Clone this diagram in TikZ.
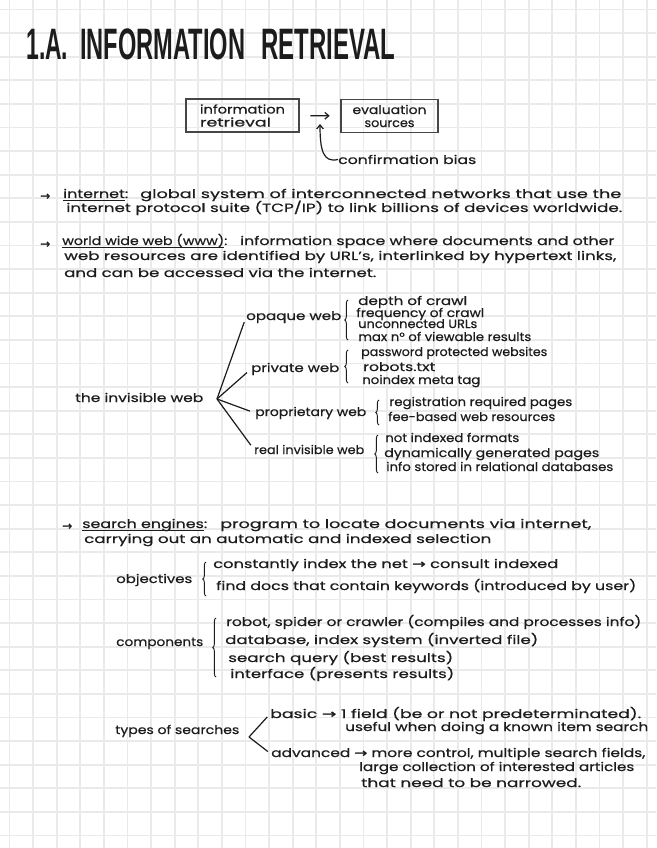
\documentclass[tikz,border=0pt]{standalone}
\usepackage{graphicx,xcolor}
\usepackage{fontspec}
\setmainfont[FakeBold=0.5]{Poppins}
\newfontfamily\titlefont{Liberation Sans}
\newfontfamily\symfont[FakeBold=1]{DejaVu Sans}
\definecolor{inkblack}{RGB}{28,28,28}
\definecolor{boxgray}{RGB}{70,70,70}
\definecolor{gridgray}{RGB}{234,234,234}
\usetikzlibrary{arrows.meta,decorations.pathreplacing}
\newlength{\pxu}
\setlength{\pxu}{0.75pt}
\newcommand{\hw}[2]{\resizebox{#1\pxu}{\height}{#2}}
\newcommand{\toglyph}{{\symfont →}}
\newcommand{\inkunder}[1]{\underline{\smash{#1}}}

\begin{document}
\begin{tikzpicture}[x=0.75pt, y=-0.75pt,
    gridline/.style={draw=gridgray, line width=1.3pt},
    hand/.style={anchor=base west, inner sep=0pt, text=inkblack,
                font=\fontsize{9}{11}\selectfont},
    notebox/.style={draw=boxgray, line width=0.9pt, minimum height=24.75pt,
                inner sep=0pt, text=inkblack, font=\fontsize{9}{9.75}\selectfont},
    inkline/.style={draw=inkblack, line width=0.9pt},
    inkarrow/.style={inkline, -{Straight Barb[length=3pt,width=5pt]}},
    handbrace/.style={inkline, line width=0.7pt, decorate,
                decoration={brace, amplitude=2.5pt, aspect=0.5}}
  ]
    \useasboundingbox (0,0) rectangle (656,848);
    \fill[white] (0,0) rectangle (656,848);
    \foreach \gx in {0,...,27}
      \draw[gridline] ({9.5+23.6*\gx},0) -- ({9.5+23.6*\gx},848);
    \foreach \gy in {0,...,35}
      \draw[gridline] (0,{9.5+23.6*\gy}) -- (656,{9.5+23.6*\gy});

    \node[anchor=base west, inner sep=0pt, text=inkblack,
          font=\fontsize{33}{36}\selectfont\titlefont\bfseries] (title) at (26,60)
      {\hw{42}{1.A.}\hspace{12\pxu}\hw{165}{INFORMATION}\hspace{16\pxu}\hw{134}{RETRIEVAL}};

    \node[notebox, minimum width=84.75pt, align=left] (retrieval) at (242.5,115.5)
      {\hw{85}{information}\hspace{6\pxu}\\\hw{71}{retrieval}};
    \node[notebox, minimum width=72.75pt, align=center] (evaluation) at (389.5,116)
      {\hw{74}{evaluation}\\\hw{50}{sources}};
    \node[hand] (bias) at (338,164) {\hw{138}{confirmation bias}};
    \coordinate (biastip) at (320,124);
    \draw[inkarrow, shorten <=8pt, shorten >=8pt] (retrieval) -- (evaluation);
    \draw[inkarrow] (bias.west) .. controls (323,163) and (320,150) .. (biastip);

    \node[hand] (arrowA) at (40,200) {\hw{10}{\toglyph}};
    \node[hand] (internet) at (63,198) {\hw{65}{\inkunder{internet}:}};
    \node[hand] (internetA) at (140,198) {\hw{481}{global system of interconnected networks that use the}};
    \node[hand] (internetB) at (66,212) {\hw{556}{internet protocol suite (TCP/IP) to link billions of devices worldwide.}};

    \node[hand] (arrowB) at (40,248) {\hw{10}{\toglyph}};
    \node[hand] (www) at (62,245) {\hw{165}{\inkunder{world wide web (www)}:}};
    \node[hand] (wwwA) at (240,245) {\hw{374}{information space where documents and other}};
    \node[hand] (wwwB) at (64,260) {\hw{552}{web resources are identified by URL's, interlinked by hypertext links,}};
    \node[hand] (wwwC) at (64,277) {\hw{312}{and can be accessed via the internet.}};

    \node[hand] (invisible) at (75,402) {\hw{128}{the invisible web}};
    \coordinate (hub) at (217,399);
    \node[hand] (opaque) at (246,320) {\hw{95}{opaque web}};
    \node[hand] (private) at (251,372) {\hw{88}{private web}};
    \node[hand] (proprietary) at (255,416) {\hw{111}{proprietary web}};
    \node[hand] (real) at (254,454) {\hw{110}{real invisible web}};
    \draw[inkline, shorten >=4pt] (hub) -- (opaque.west);
    \draw[inkline, shorten >=4pt] (hub) -- (private.west);
    \draw[inkline, shorten >=4pt] (hub) -- (proprietary.west);
    \draw[inkline, shorten >=4pt] (hub) -- (real.west);

    \draw[handbrace] (348,340) -- (348,300);
    \node[hand] (depth) at (358,305) {\hw{109}{depth of crawl}};
    \node[hand] (frequency) at (356,317) {\hw{128}{frequency of crawl}};
    \node[hand] (unconnected) at (358,328) {\hw{119}{unconnected URLs}};
    \node[hand] (viewable) at (358,341) {\hw{173}{max n° of viewable results}};

    \draw[handbrace] (348,383) -- (348,350);
    \node[hand] (password) at (361,356) {\hw{186}{password protected websites}};
    \node[hand] (robots) at (363,371) {\hw{72}{robots.txt}};
    \node[hand] (noindex) at (362,384) {\hw{118}{noindex meta tag}};

    \draw[handbrace] (379,425) -- (379,400);
    \node[hand] (registration) at (389,406) {\hw{183}{registration required pages}};
    \node[hand] (feebased) at (388,421) {\hw{167}{fee-based web resources}};

    \draw[handbrace] (378,473) -- (378,435);
    \node[hand] (formats) at (385,442) {\hw{134}{not indexed formats}};
    \node[hand] (dynamic) at (384,457) {\hw{215}{dynamically generated pages}};
    \node[hand] (relational) at (386,471) {\hw{227}{info stored in relational databases}};

    \node[hand] (arrowC) at (62,530) {\hw{10}{\toglyph}};
    \node[hand] (engines) at (82,528) {\hw{125}{\inkunder{search engines}:}};
    \node[hand] (enginesA) at (220,528) {\hw{371}{program to locate documents via internet,}};
    \node[hand] (enginesB) at (84,543) {\hw{407}{carrying out an automatic and indexed selection}};

    \node[hand] (objectives) at (116,583) {\hw{76}{objectives}};
    \draw[handbrace] (206,596) -- (206,562);
    \node[hand] (constantly) at (213,568) {\hw{345}{constantly index the net \toglyph{} consult indexed}};
    \node[hand] (finddocs) at (216,590) {\hw{420}{find docs that contain keywords (introduced by user)}};

    \node[hand] (components) at (116,646) {\hw{87}{components}};
    \draw[handbrace] (216,677) -- (216,618);
    \node[hand] (robot) at (226,626) {\hw{415}{robot, spider or crawler (compiles and processes info)}};
    \node[hand] (database) at (225,644) {\hw{313}{database, index system (inverted file)}};
    \node[hand] (query) at (228,662) {\hw{225}{search query (best results)}};
    \node[hand] (interface) at (230,678) {\hw{224}{interface (presents results)}};

    \node[hand] (searches) at (115,734) {\hw{124}{types of searches}};
    \coordinate (chevron) at (249,737);
    \node[hand] (basic) at (270,718) {\hw{371}{basic \toglyph{} 1 field (be or not predeterminated).}};
    \node[hand] (basicB) at (345,731) {\hw{303}{useful when doing a known item search}};
    \node[hand] (advanced) at (271,757) {\hw{374}{advanced \toglyph{} more control, multiple search fields,}};
    \node[hand] (advancedB) at (359,771) {\hw{275}{large collection of interested articles}};
    \node[hand] (advancedC) at (361,787) {\hw{220}{that need to be narrowed.}};
    \draw[inkline, shorten >=3pt] (chevron) -- (basic.west);
    \draw[inkline, shorten >=3pt] (chevron) -- (advanced.west);
  \end{tikzpicture}
\end{document}
